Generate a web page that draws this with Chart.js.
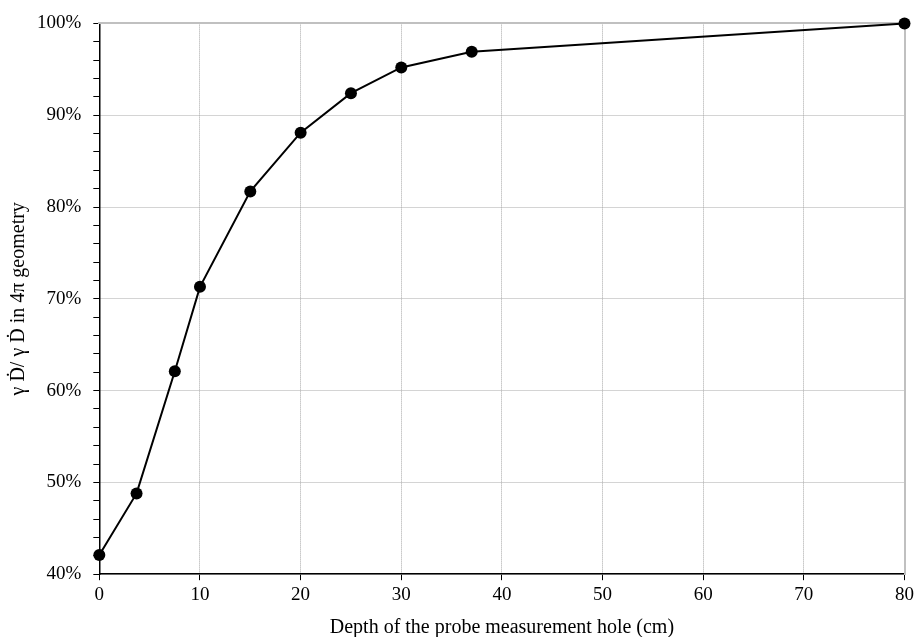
<!DOCTYPE html>
<html>
<head>
<meta charset="utf-8">
<script src="https://cdn.jsdelivr.net/npm/chart.js@4"></script>
<style>
html,body{margin:0;padding:0;background:#fff;}
#wrap{width:917px;height:637px;}
</style>
</head>
<body>
<div id="wrap"><canvas id="c" width="917" height="637"></canvas></div>
<script>
const depths = [0, 3.7, 7.5, 10, 15, 20, 25, 30, 37, 80];
const ratios = [42.1, 48.8, 62.1, 71.3, 81.7, 88.1, 92.4, 95.2, 96.9, 100];
const xTicks = [0, 10, 20, 30, 40, 50, 60, 70, 80];
const yTicks = [40, 50, 60, 70, 80, 90, 100];
const xTitle = 'Depth of the probe measurement hole (cm)';
const yTitle = 'γ Ḋ/ γ Ḋ in 4π geometry';

const tickFont = {family: '"Liberation Serif", "Times New Roman", serif', size: 19};
const titleFont = {family: '"Liberation Serif", "Times New Roman", serif', size: 20};
const gridGray = '#a8a8a8';
const frameGray = '#c0c0c0';

const points = depths.map((d, i) => ({x: d, y: ratios[i]}));

new Chart(document.getElementById('c'), {
  type: 'line',
  data: {
    datasets: [{
      data: points,
      borderColor: '#000',
      backgroundColor: '#000',
      borderWidth: 2,
      pointRadius: 6,
      pointBackgroundColor: '#000',
      pointBorderColor: '#000',
      pointBorderWidth: 0,
      tension: 0,
      clip: false,
      xAxisID: 'x',
      yAxisID: 'y'
    }]
  },
  options: {
    responsive: false,
    animation: false,
    devicePixelRatio: 1,
    layout: {padding: {top: 16, right: 9, left: 7, bottom: 0}},
    plugins: {legend: {display: false}, tooltip: {enabled: false}},
    scales: {
      x: {
        type: 'linear',
        position: 'bottom',
        min: xTicks[0],
        max: xTicks[xTicks.length - 1],
        afterBuildTicks: (s) => { s.ticks = xTicks.map(v => ({value: v})); },
        ticks: {color: '#000', font: tickFont, padding: 3, maxRotation: 0, autoSkip: false},
        grid: {color: gridGray, lineWidth: 1, tickColor: '#000', tickLength: 6, tickWidth: 1},
        border: {display: true, color: '#000', width: 1.5, dash: [1, 1]},
        title: {display: true, text: xTitle, color: '#000', font: titleFont, padding: {top: 7, bottom: -3}}
      },
      y: {
        type: 'linear',
        position: 'left',
        min: 40,
        max: 100,
        ticks: {
          stepSize: 2,
          autoSkip: false,
          color: '#000',
          font: tickFont,
          padding: 12,
          callback: (v) => (yTicks.includes(v) ? v + '%' : '')
        },
        grid: {
          color: (c) => (c.tick && yTicks.includes(c.tick.value) ? gridGray : 'rgba(0,0,0,0)'),
          lineWidth: 1,
          tickColor: '#000',
          tickLength: 6,
          tickWidth: 1
        },
        border: {display: true, color: '#000', width: 1.5, dash: [1, 1]},
        title: {display: true, text: yTitle, color: '#000', font: titleFont, padding: {top: 0, bottom: -6}}
      },
      xTop: {
        type: 'linear',
        position: 'top',
        min: xTicks[0],
        max: xTicks[xTicks.length - 1],
        ticks: {display: false},
        grid: {display: false, drawTicks: false},
        border: {display: true, color: frameGray, width: 2}
      },
      yRight: {
        type: 'linear',
        position: 'right',
        min: 40,
        max: 100,
        ticks: {display: false},
        grid: {display: false, drawTicks: false},
        border: {display: true, color: frameGray, width: 2}
      }
    }
  }
});
</script>
</body>
</html>
